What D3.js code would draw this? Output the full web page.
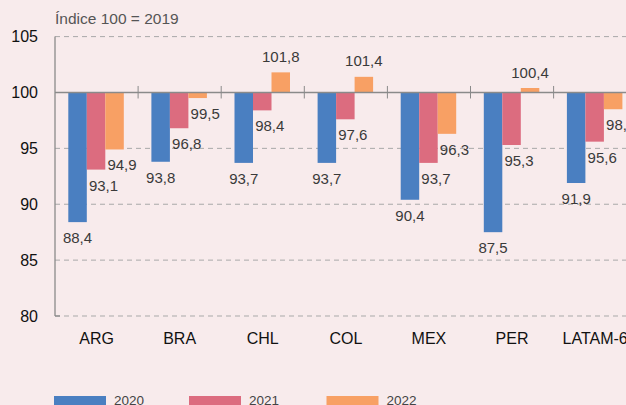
<!DOCTYPE html>
<html><head><meta charset="utf-8">
<script src="https://cdn.jsdelivr.net/npm/d3@7"></script>
<style>
html,body{margin:0;padding:0;background:#f8ebec;overflow:hidden;}
svg{display:block;font-family:"Liberation Sans",Arial,sans-serif;}
</style></head>
<body><svg id="c" width="626" height="405"></svg>
<script>
const categories = ["ARG","BRA","CHL","COL","MEX","PER","LATAM-6"];
const seriesNames = ["2020","2021","2022"];
const v2020 = [88.4,93.8,93.7,93.7,90.4,87.5,91.9];
const v2021 = [93.1,96.8,98.4,97.6,93.7,95.3,95.6];
const v2022 = [94.9,99.5,101.8,101.4,96.3,100.4,98.5];
const yTicks = [80,85,90,95,100,105];
const colors = ["#4a7fc1","#dc6c7f","#f8a064"];
const title = "Índice 100 = 2019";

const svg = d3.select("#c");
const bandW = 83.1, x0 = 55;
const x = d3.scaleBand().domain(categories).range([x0, x0 + bandW*categories.length]).padding(0);
const xs = d3.scaleBand().domain(seriesNames).range([13.3, 68.8]).padding(0);
const y = d3.scaleLinear().domain([80,105]).range([316, 36.6]);
const series = [v2020, v2021, v2022];
const fmt = v => d3.format(".1f")(v).replace(".", ",");

// gridlines
svg.append("g").selectAll("line").data(yTicks.filter(t => t !== 100)).join("line")
  .attr("x1", x0).attr("x2", 626).attr("y1", d => y(d)).attr("y2", d => y(d))
  .attr("stroke", "#a9a9a9").attr("stroke-width", 1).attr("stroke-dasharray", "5,4");

// y tick labels
svg.append("g").selectAll("text").data(yTicks).join("text")
  .attr("x", 38).attr("y", d => y(d)).attr("dy", "0.35em").attr("text-anchor", "end")
  .attr("font-size", 16).attr("fill", "#111").text(d => d);

// title
svg.append("text").attr("x", 55).attr("y", 24).attr("font-size", 15.5).attr("fill", "#555").text(title);

// bars
const groups = svg.append("g").selectAll("g").data(series).join("g").attr("fill", (d,i) => colors[i]);
groups.each(function(vals, si) {
  d3.select(this).selectAll("rect").data(vals).join("rect")
    .attr("x", (d,i) => x(categories[i]) + xs(seriesNames[si]))
    .attr("width", xs.bandwidth())
    .attr("y", d => Math.min(y(d), y(100)))
    .attr("height", d => Math.abs(y(d) - y(100)));
});

// baseline 100 with ticks
svg.append("line").attr("x1", x0).attr("x2", 626).attr("y1", y(100)).attr("y2", y(100))
  .attr("stroke", "#8a8a8a").attr("stroke-width", 1.3);
svg.append("g").selectAll("line").data(categories.slice(1)).join("line")
  .attr("x1", d => x(d)).attr("x2", d => x(d)).attr("y1", y(100) - 6.5).attr("y2", y(100) + 6)
  .attr("stroke", "#8a8a8a").attr("stroke-width", 1);
// y axis line
svg.append("line").attr("x1", x0).attr("x2", x0).attr("y1", y(105)).attr("y2", y(80))
  .attr("stroke", "#8a8a8a").attr("stroke-width", 1.3);
svg.append("line").attr("x1", x0).attr("x2", x0+5).attr("y1", y(80)).attr("y2", y(80))
  .attr("stroke", "#8a8a8a").attr("stroke-width", 1.3);

// value labels
series.forEach((vals, si) => {
  svg.append("g").selectAll("text").data(vals).join("text")
    .attr("x", (d,i) => x(categories[i]) + xs(seriesNames[si]) + xs.bandwidth()/2 + (d < 100 && si > 0 ? 7.5 : 0))
    .attr("y", d => d < 100 ? y(d) + 21 : y(d) - 10.5)
    .attr("text-anchor", "middle").attr("font-size", 15).attr("fill", "#3a3a3a")
    .text(d => fmt(d));
});

// category labels
svg.append("g").selectAll("text").data(categories).join("text")
  .attr("x", d => x(d) + x.bandwidth()/2).attr("y", 344)
  .attr("text-anchor", "middle").attr("font-size", 16).attr("fill", "#111").text(d => d);

// legend
const legX = [54, 189, 326.5];
const lg = svg.append("g").selectAll("g").data(seriesNames).join("g")
  .attr("transform", (d,i) => `translate(${legX[i]},0)`);
lg.append("rect").attr("x", 0).attr("y", 396).attr("width", 52).attr("height", 10).attr("fill", (d,i) => colors[i]);
lg.append("text").attr("x", 60).attr("y", 404.5).attr("font-size", 13.5).attr("fill", "#444").text(d => d);
</script></body></html>
